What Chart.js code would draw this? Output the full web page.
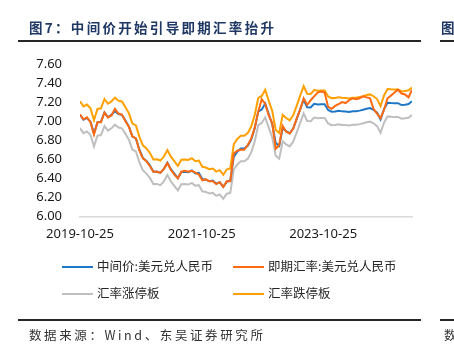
<!DOCTYPE html>
<html>
<head>
<meta charset="utf-8">
<script src="https://cdn.jsdelivr.net/npm/chart.js@4.4.1/dist/chart.umd.min.js"></script>
<style>
  html, body { margin: 0; padding: 0; background: #ffffff; }
  #wrap { position: relative; width: 454px; height: 358px; overflow: hidden; background: #fff; }
  #c { position: absolute; left: 0; top: 0; }
  .title { position: absolute; left: 29px; top: 17px; font-family: "Noto Sans CJK SC", sans-serif; font-weight: bold; font-size: 13.5px; letter-spacing: 2.3px; color: #1f3864; white-space: nowrap; line-height: 20px; }
  .rule { position: absolute; height: 2px; background: #262626; }
  .src { position: absolute; left: 29px; top: 326px; font-family: "Noto Sans CJK SC", sans-serif; font-size: 12.5px; letter-spacing: 2.6px; color: #333; white-space: nowrap; line-height: 18px; }
  .leg { position: absolute; font-family: "Noto Sans CJK SC", sans-serif; font-size: 12.5px; color: #262626; white-space: nowrap; line-height: 16px; }
  .sw { position: absolute; width: 31px; height: 2px; }
</style>
</head>
<body>
<div id="wrap">
  <canvas id="c" width="454" height="358"></canvas>
  <div class="title">图7：中间价开始引导即期汇率抬升</div>
  <div class="title" style="left:441px;">图</div>
  <div class="rule" style="left:18px; width:403px; top:40px;"></div>
  <div class="rule" style="left:440px; width:14px; top:40px;"></div>
  <div class="rule" style="left:18px; width:403px; top:319px;"></div>
  <div class="rule" style="left:440px; width:14px; top:319px;"></div>
  <div class="src">数据来源：Wind、东吴证券研究所</div>
  <div class="src" style="left:444px;">数</div>
  <div id="legend"></div>
</div>
<script>
// ---------- data ----------
const startDate = "2019-10-25";
const dates = [
"2019-10-25","2019-11-15","2019-12-06","2019-12-27","2020-01-17","2020-02-07","2020-02-28","2020-03-20",
"2020-04-10","2020-05-01","2020-05-22","2020-06-12","2020-07-03","2020-07-24","2020-08-14","2020-09-04",
"2020-09-25","2020-10-16","2020-11-06","2020-11-27","2020-12-18","2021-01-08","2021-01-29","2021-02-19",
"2021-03-12","2021-04-02","2021-04-23","2021-05-14","2021-06-04","2021-06-25","2021-07-16","2021-08-06",
"2021-08-27","2021-09-17","2021-10-08","2021-10-29","2021-11-19","2021-12-10","2021-12-31","2022-01-21",
"2022-02-11","2022-03-04","2022-03-25","2022-04-15","2022-05-06","2022-05-27","2022-06-17","2022-07-08",
"2022-07-29","2022-08-19","2022-09-09","2022-09-30","2022-10-21","2022-11-11","2022-12-02","2022-12-23",
"2023-01-13","2023-02-03","2023-02-24","2023-03-17","2023-04-07","2023-04-28","2023-05-19","2023-06-09",
"2023-06-30","2023-07-21","2023-08-11","2023-09-01","2023-09-22","2023-10-13","2023-11-03","2023-11-24",
"2023-12-15","2024-01-05","2024-01-26","2024-02-16","2024-03-08","2024-03-29","2024-04-19","2024-05-10",
"2024-05-31","2024-06-21","2024-07-12","2024-08-02","2024-08-23","2024-09-13","2024-10-04","2024-10-25",
"2024-11-15","2024-12-06","2024-12-27","2025-01-17","2025-02-07","2025-02-28","2025-03-21","2025-04-11"
];
// 中间价:美元兑人民币
const midRate = [
7.068,7.015,7.034,6.995,6.873,6.988,6.995,7.091,7.042,7.066,7.105,7.074,7.066,7.007,6.943,6.838,
6.819,6.701,6.615,6.582,6.536,6.469,6.471,6.458,6.499,6.566,6.497,6.451,6.402,6.467,6.470,6.464,
6.482,6.451,6.458,6.393,6.386,6.369,6.376,6.344,6.359,6.311,6.366,6.376,6.625,6.680,6.714,6.713,
6.741,6.808,6.927,7.100,7.123,7.185,7.074,6.970,6.772,6.741,6.927,6.895,6.872,6.923,7.021,7.125,
7.223,7.145,7.143,7.182,7.175,7.178,7.178,7.118,7.100,7.101,7.109,7.103,7.101,7.096,7.104,7.104,
7.111,7.120,7.131,7.138,7.120,7.090,7.018,7.127,7.194,7.190,7.189,7.189,7.169,7.173,7.180,7.210
];
// 即期汇率:美元兑人民币
const spotRate = [
7.070,7.020,7.040,6.990,6.860,6.990,6.990,7.090,7.040,7.060,7.130,7.080,7.070,7.000,6.940,6.840,
6.820,6.690,6.610,6.580,6.530,6.470,6.470,6.460,6.500,6.560,6.490,6.440,6.400,6.470,6.480,6.470,
6.480,6.460,6.440,6.380,6.390,6.370,6.370,6.340,6.360,6.310,6.370,6.370,6.660,6.690,6.700,6.700,
6.750,6.820,6.930,7.100,7.230,7.180,7.060,6.980,6.710,6.750,6.950,6.890,6.870,6.920,7.030,7.120,
7.240,7.170,7.220,7.260,7.300,7.310,7.300,7.150,7.130,7.160,7.180,7.200,7.190,7.220,7.240,7.230,
7.240,7.260,7.250,7.240,7.130,7.080,7.030,7.120,7.240,7.270,7.300,7.330,7.290,7.280,7.250,7.330
];
// 汇率涨停板
const upperLimit = [
6.927,6.875,6.893,6.855,6.736,6.848,6.855,6.949,6.901,6.925,6.963,6.933,6.925,6.867,6.804,6.701,
6.683,6.567,6.483,6.450,6.405,6.340,6.342,6.329,6.369,6.435,6.367,6.322,6.274,6.338,6.341,6.335,
6.352,6.322,6.329,6.265,6.258,6.242,6.248,6.217,6.232,6.185,6.239,6.248,6.493,6.546,6.580,6.579,
6.606,6.672,6.788,6.958,6.981,7.041,6.933,6.831,6.637,6.606,6.788,6.757,6.735,6.785,6.881,6.983,
7.079,7.002,7.000,7.038,7.032,7.034,7.034,6.976,6.958,6.959,6.967,6.961,6.959,6.954,6.962,6.962,
6.969,6.978,6.988,6.995,6.978,6.948,6.878,6.984,7.050,7.046,7.045,7.045,7.026,7.030,7.036,7.066
];
// 汇率跌停板
const lowerLimit = [
7.209,7.155,7.175,7.135,7.010,7.128,7.135,7.233,7.183,7.207,7.247,7.215,7.207,7.147,7.082,6.975,
6.955,6.835,6.747,6.714,6.667,6.598,6.600,6.587,6.629,6.697,6.627,6.580,6.530,6.596,6.599,6.593,
6.612,6.580,6.587,6.521,6.514,6.496,6.504,6.471,6.486,6.437,6.493,6.504,6.758,6.814,6.848,6.847,
6.876,6.944,7.066,7.242,7.265,7.329,7.215,7.109,6.907,6.876,7.066,7.033,7.009,7.061,7.161,7.268,
7.367,7.288,7.286,7.326,7.319,7.322,7.322,7.260,7.242,7.243,7.251,7.245,7.243,7.238,7.246,7.246,
7.253,7.262,7.274,7.281,7.262,7.232,7.158,7.270,7.338,7.334,7.333,7.333,7.312,7.316,7.324,7.354
];
const seriesNames = ["中间价:美元兑人民币","即期汇率:美元兑人民币","汇率涨停板","汇率跌停板"];
const seriesColors = ["#1f77c8","#ff6a10","#bfbfbf","#ffa000"];
const xTickLabels = ["2019-10-25","2021-10-25","2023-10-25"];
const yTicks = [6.00,6.20,6.40,6.60,6.80,7.00,7.20,7.40,7.60];

// ---------- helpers ----------
const DAY = 86400000;
const t0 = Date.parse(startDate + "T00:00:00Z");
const dayOf = s => Math.round((Date.parse(s + "T00:00:00Z") - t0) / DAY);
const xDays = dates.map(dayOf);
const tickDays = xTickLabels.map(dayOf);
const toPts = arr => arr.map((v, i) => ({ x: xDays[i], y: v }));

// legend (HTML, two aligned columns like the reference)
const legPos = [[62, 97, 266.5], [233, 268, 266.5], [62, 97, 293.5], [233, 268, 293.5]];
const legEl = document.getElementById("legend");
seriesNames.forEach((n, i) => {
  const [sx, tx, cy] = legPos[i];
  const sw = document.createElement("div");
  sw.className = "sw"; sw.style.left = sx + "px"; sw.style.top = (cy - 1) + "px"; sw.style.background = seriesColors[i];
  const tx1 = document.createElement("div");
  tx1.className = "leg"; tx1.style.left = tx + "px"; tx1.style.top = (cy - 8.5) + "px"; tx1.textContent = n;
  legEl.appendChild(sw); legEl.appendChild(tx1);
});

const mk = (i, data, order) => ({
  label: seriesNames[i], data: toPts(data), borderColor: seriesColors[i], backgroundColor: seriesColors[i],
  borderWidth: 2, pointRadius: 0, tension: 0, order: order
});

new Chart(document.getElementById("c"), {
  type: "line",
  data: {
    datasets: [
      mk(1, spotRate, 0),
      mk(0, midRate, 1),
      mk(3, lowerLimit, 2),
      mk(2, upperLimit, 3)
    ]
  },
  options: {
    responsive: false,
    animation: false,
    events: [],
    layout: { padding: { left: 0, right: 42, top: 64, bottom: 111.5 } },
    plugins: { legend: { display: false }, tooltip: { enabled: false }, title: { display: false } },
    scales: {
      x: {
        type: "linear",
        min: 0,
        max: xDays[xDays.length - 1],
        grid: { display: false, drawTicks: false },
        border: { display: true, color: "#d9d9d9", width: 1.5 },
        afterBuildTicks: s => { s.ticks = tickDays.map(v => ({ value: v })); },
        afterFit: s => { s.height = 30; },
        ticks: {
          autoSkip: false, maxRotation: 0, padding: 10,
          color: "#1a1a1a", font: { family: "'Noto Sans', sans-serif", size: 13 },
          callback: v => { const k = tickDays.indexOf(v); return k >= 0 ? xTickLabels[k] : ""; }
        }
      },
      y: {
        type: "linear",
        min: 6.0, max: 7.6,
        grid: { display: false, drawTicks: false },
        border: { display: false },
        afterBuildTicks: s => { s.ticks = yTicks.map(v => ({ value: v })); },
        afterFit: s => { s.width = 80; },
        ticks: {
          padding: 18,
          color: "#1a1a1a", font: { family: "'Noto Sans', sans-serif", size: 13 },
          callback: v => Number(v).toFixed(2)
        }
      }
    }
  }
});
</script>
</body>
</html>
